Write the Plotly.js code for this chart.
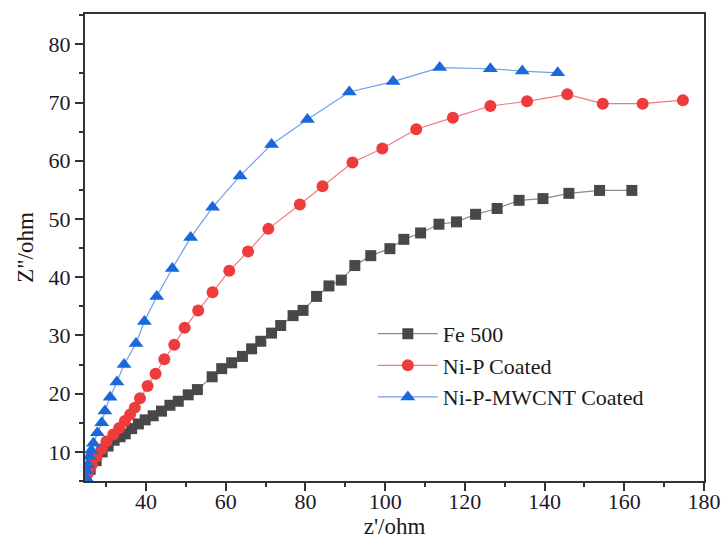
<!DOCTYPE html>
<html>
<head>
<meta charset="utf-8">
<script src="https://cdn.plot.ly/plotly-3.0.1.min.js"></script>
<style>html,body{margin:0;padding:0;background:#fff;}#chart{width:726px;height:542px;}</style>
</head>
<body>
<div id="chart"></div>
<script>
// Fe 500
const feX = [25, 26, 27.5, 29, 30.5, 32, 33.5, 34.8, 36.4, 38.1, 39.8, 41.8, 43.9, 46.0, 48.1, 50.6, 52.9, 56.6, 59.0, 61.5, 64.2, 66.5, 68.8, 71.5, 73.8, 76.9, 79.4, 82.8, 85.9, 89.0, 92.4, 96.4, 101.2, 104.7, 108.9, 113.5, 117.9, 122.7, 128.1, 133.6, 139.6, 146.1, 153.8, 161.9];
const feY = [5.5, 7, 8.5, 10, 11, 12, 12.6, 13.1, 14.0, 14.8, 15.5, 16.2, 17.0, 18.0, 18.7, 19.8, 20.7, 22.9, 24.3, 25.3, 26.4, 27.7, 29.0, 30.4, 31.7, 33.4, 34.3, 36.7, 38.5, 39.5, 42.0, 43.7, 44.9, 46.5, 47.6, 49.1, 49.5, 50.8, 51.8, 53.2, 53.5, 54.4, 54.9, 54.9];
// Ni-P Coated
const nipX = [25.5, 26.4, 27.6, 28.9, 30.1, 31.8, 33.3, 34.7, 36.0, 37.2, 38.5, 40.4, 42.4, 44.6, 47.1, 49.7, 53.1, 56.7, 60.9, 65.6, 70.7, 78.6, 84.3, 91.8, 99.3, 107.8, 117, 126.4, 135.6, 145.7, 154.6, 164.6, 174.7];
const nipY = [6.4, 7.8, 9.2, 10.5, 11.8, 13.0, 14.1, 15.3, 16.4, 17.6, 19.2, 21.3, 23.4, 25.9, 28.4, 31.3, 34.3, 37.4, 41.1, 44.4, 48.3, 52.5, 55.6, 59.7, 62.1, 65.4, 67.4, 69.4, 70.2, 71.4, 69.8, 69.8, 70.4];
// Ni-P-MWCNT Coated
const cntX = [25.0, 25.1, 25.4, 25.8, 26.3, 26.8, 27.8, 28.9, 29.7, 31.0, 32.7, 34.5, 37.5, 39.6, 42.7, 46.6, 51.2, 56.7, 63.6, 71.5, 80.5, 91, 102, 113.7, 126.4, 134.4, 143.3];
const cntY = [5.5, 6.7, 7.8, 9.2, 10.3, 11.5, 13.3, 15.0, 17.0, 19.4, 22.0, 25.0, 28.6, 32.4, 36.7, 41.5, 46.8, 52.0, 57.4, 62.8, 67.1, 71.8, 73.6, 76.0, 75.8, 75.4, 75.1];

const names = ['Fe 500', 'Ni-P Coated', 'Ni-P-MWCNT Coated'];
const xTicks = [40, 60, 80, 100, 120, 140, 160, 180];
const yTicks = [10, 20, 30, 40, 50, 60, 70, 80];

const FONT = 'Liberation Serif';
const traces = [
  {x: feX, y: feY, name: names[0], mode: 'lines+markers', type: 'scatter',
   line: {color: '#8a8a8a', width: 1.2}, marker: {symbol: 'square', size: 11, color: '#484848'}},
  {x: nipX, y: nipY, name: names[1], mode: 'lines+markers', type: 'scatter',
   line: {color: '#f27a7a', width: 1.2}, marker: {symbol: 'circle', size: 12, color: '#ee3b3b'}},
  {x: cntX, y: cntY, name: names[2], mode: 'lines+markers', type: 'scatter',
   line: {color: '#6f9fe8', width: 1.2}, marker: {symbol: 'triangle-up', size: 13, color: '#1a68dc'}}
];

const axisCommon = {
  showgrid: false, zeroline: false, showline: true, mirror: true,
  linecolor: '#333', linewidth: 2, ticks: 'outside', ticklen: 8, tickwidth: 2, tickcolor: '#333',
  tickfont: {family: FONT, size: 22, color: '#1a1a2a'},
  minor: {ticks: 'outside', ticklen: 4, tickwidth: 2, tickcolor: '#333'}
};

const layout = {
  width: 726, height: 542,
  margin: {l: 85, r: 22, t: 14, b: 61},
  paper_bgcolor: '#fff', plot_bgcolor: '#fff',
  font: {family: FONT, color: '#1a1a1a'},
  showlegend: true,
  legend: {x: 0.465, y: 0.36, xanchor: 'left', yanchor: 'top', bgcolor: 'rgba(0,0,0,0)',
           itemwidth: 60,
           font: {family: FONT, size: 22, color: '#1a1a1a'}, tracegroupgap: 0},
  xaxis: Object.assign({}, axisCommon, {
    range: [24.7, 180], tickvals: xTicks, ticktext: xTicks.map(String),
    ticklabelstandoff: -8,
    minor: Object.assign({}, axisCommon.minor, {dtick: 10, tick0: 0}),
    title: {text: "z'/ohm", font: {family: FONT, size: 23, color: '#1a1a1a'}, standoff: 3}
  }),
  yaxis: Object.assign({}, axisCommon, {
    range: [5, 85.2], tickvals: yTicks, ticktext: yTicks.map(String),
    minor: Object.assign({}, axisCommon.minor, {dtick: 5, tick0: 0}),
    title: {text: 'Z"/ohm', font: {family: FONT, size: 23, color: '#1a1a1a'}, standoff: 9}
  })
};

Plotly.newPlot('chart', traces, layout, {displayModeBar: false, staticPlot: true});
</script>
</body>
</html>
